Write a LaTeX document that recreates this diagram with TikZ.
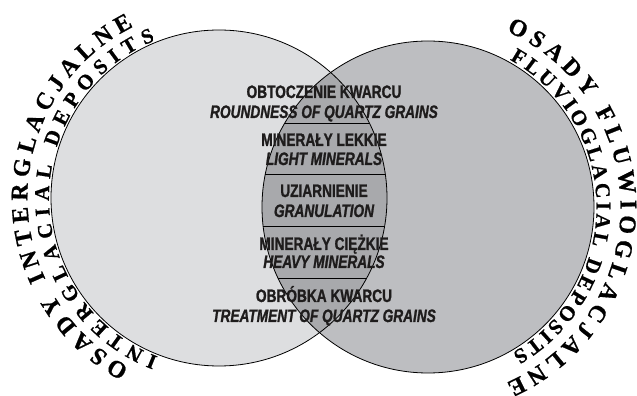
\documentclass[tikz,border=0pt]{standalone}
\usepackage{fontspec}
\usetikzlibrary{decorations.text,calc}
\newfontfamily\condb[FakeStretch=0.76,FakeBold=1.2]{Liberation Sans Bold}
\newfontfamily\condbi[FakeStretch=0.76,FakeBold=1.2]{Liberation Sans Bold Italic}
\newfontfamily\serifb[FakeBold=0.7]{Liberation Serif Bold}
\definecolor{leftfill}{RGB}{221,222,224}
\definecolor{rightfill}{RGB}{189,190,193}
\definecolor{lensfill}{RGB}{168,169,172}
\definecolor{inktext}{RGB}{30,28,28}
\begin{document}
\begin{tikzpicture}[x=1pt,y=1pt,
  pl/.style={font=\condb\fontsize{18}{18}\selectfont, text=inktext, anchor=base, inner sep=0pt},
  en/.style={font=\condbi\fontsize{18}{18}\selectfont, text=inktext, anchor=base, inner sep=0pt},
  ring/.style={draw=black, line width=0.8pt},
  sepline/.style={draw=black, line width=0.6pt},
  arctxt/.style={decorate, decoration={text along path, text align=fit to path, text color=black,
     text={#1}}}]
\useasboundingbox (0,0) rectangle (637,396);
\clip (0,0) rectangle (637,396);
\coordinate (L) at (219,198);
\coordinate (R) at (428,189);
\fill[leftfill] (L) circle[radius=168];
\fill[rightfill] (R) circle[radius=166];
\begin{scope}
  \clip (L) circle[radius=168];
  \fill[lensfill] (R) circle[radius=166];
  \clip (R) circle[radius=166];
  \foreach \yy in {273,222,170,118} \draw[sepline] (200,\yy) -- (450,\yy);
\end{scope}
\draw[ring] (L) circle[radius=168];
\draw[ring] (R) circle[radius=166];
% lens labels
\node[pl] (p1) at (324,298) {OBTOCZENIE KWARCU};
\node[en] (e1) at (324,278) {ROUNDNESS OF QUARTZ GRAINS};
\node[pl] (p2) at (324,250) {MINERAŁY LEKKIE};
\node[en] (e2) at (324,231) {LIGHT MINERALS};
\node[pl] (p3) at (324,199) {UZIARNIENIE};
\node[en] (e3) at (324,179) {GRANULATION};
\node[pl] (p4) at (324,146) {MINERAŁY CIĘŻKIE};
\node[en] (e4) at (324,128) {HEAVY MINERALS};
\node[pl] (p5) at (324,94) {OBRÓBKA KWARCU};
\node[en] (e5) at (324,74) {TREATMENT OF QUARTZ GRAINS};
% curved labels
\begingroup
\serifb\fontsize{24}{24}\selectfont
\path[arctxt={OSADY INTERGLACJALNE}] ($(L)+(242:191.5)$) arc[start angle=242, end angle=116.5, radius=191.5];
\path[arctxt={OSADY FLUWIOGLACJALNE}] ($(R)+(66:192.5)$) arc[start angle=66, end angle=-66, radius=192.5];
\endgroup
\begingroup
\serifb\fontsize{21}{21}\selectfont
\path[arctxt={INTERGLACIAL DEPOSITS}] ($(L)+(249:170)$) arc[start angle=249, end angle=112, radius=170];
\path[arctxt={FLUVIOGLACIAL DEPOSITS}] ($(R)+(61:168.5)$) arc[start angle=61, end angle=-60, radius=168.5];
\endgroup
\end{tikzpicture}
\end{document}
